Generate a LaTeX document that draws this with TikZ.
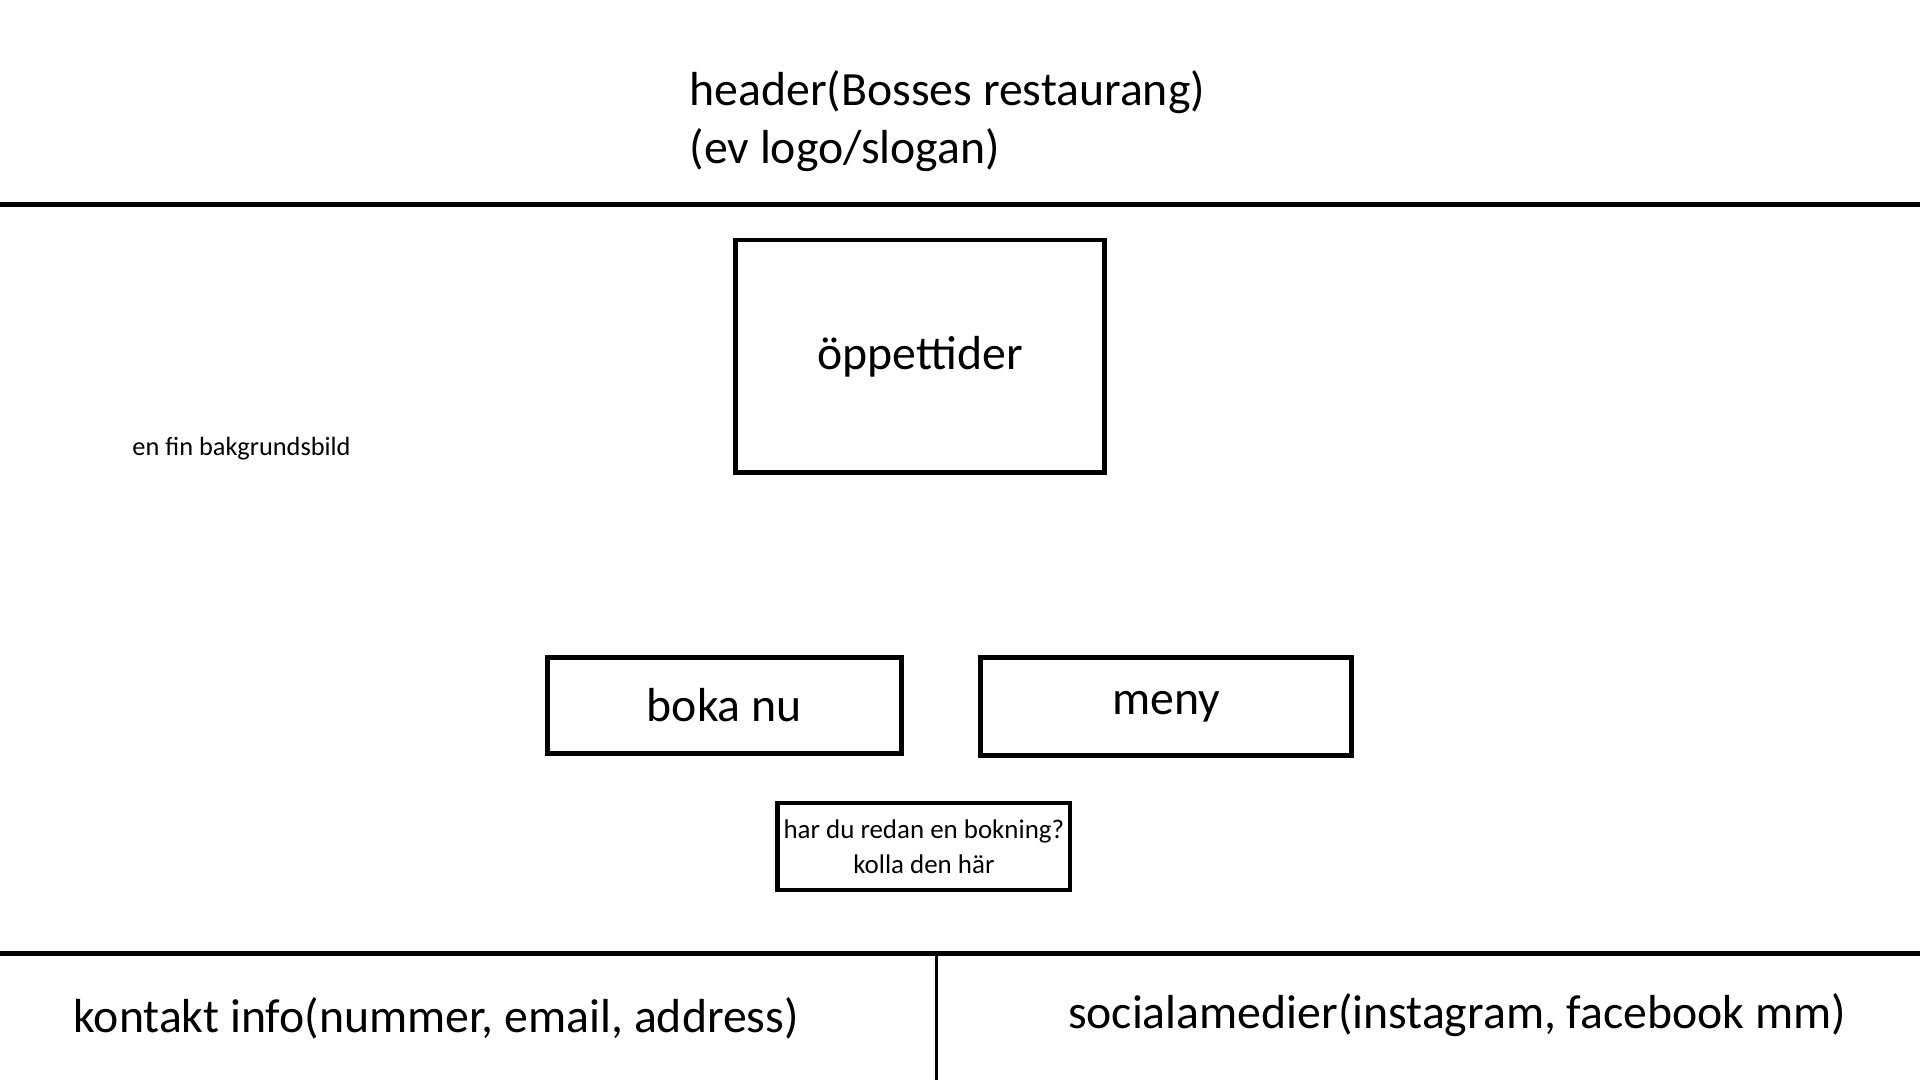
\documentclass[tikz,border=0pt]{standalone}
\usepackage{fontspec}
\setmainfont{Carlito}
\tikzset{bigtext/.style={font=\fontsize{39}{48}\selectfont}}
\tikzset{smalltext/.style={font=\fontsize{22}{28}\selectfont}}
\tikzset{boxnode/.style={draw,line width=4pt,inner sep=0pt,bigtext}}
\tikzset{divider/.style={line width=4pt}}

\begin{document}
\begin{tikzpicture}[x=1pt,y=-1pt]
        \useasboundingbox (0,0) rectangle (1568,882);
        % header
        \node[bigtext,anchor=west,align=left,inner sep=0pt] (header) at (563,99) {header(Bosses restaurang)\\(ev logo/slogan)};
        \draw[divider] (0,167) -- (1568,167);
        % main area
        \node[boxnode,minimum width=301pt,minimum height=190pt] (hours) at (751.5,291) {öppettider};
        \node[font=\fontsize{21.5}{26}\selectfont,anchor=west,inner sep=0pt] (bgimage) at (108,366) {en fin bakgrundsbild};
        \node[boxnode,minimum width=289pt,minimum height=78pt] (book) at (591.5,576) {boka nu};
        \node[boxnode,minimum width=303pt,minimum height=80pt] (menu) at (952.5,577) {meny};
        \node[boxnode,smalltext,line width=3.5pt,align=center,minimum width=239pt,minimum height=71pt] (check) at (754.5,691.5) {har du redan en bokning?\\kolla den här};
        % footer
        \draw[divider] (0,779) -- (1568,779);
        \draw[line width=2.5pt] (765,779) -- (765,882);
        \node[bigtext,anchor=west,inner sep=0pt] (contact) at (60,832) {kontakt info(nummer, email, address)};
        \node[bigtext,anchor=west,inner sep=0pt] (social) at (872,829) {socialamedier(instagram, facebook mm)};
    \end{tikzpicture}
\end{document}
